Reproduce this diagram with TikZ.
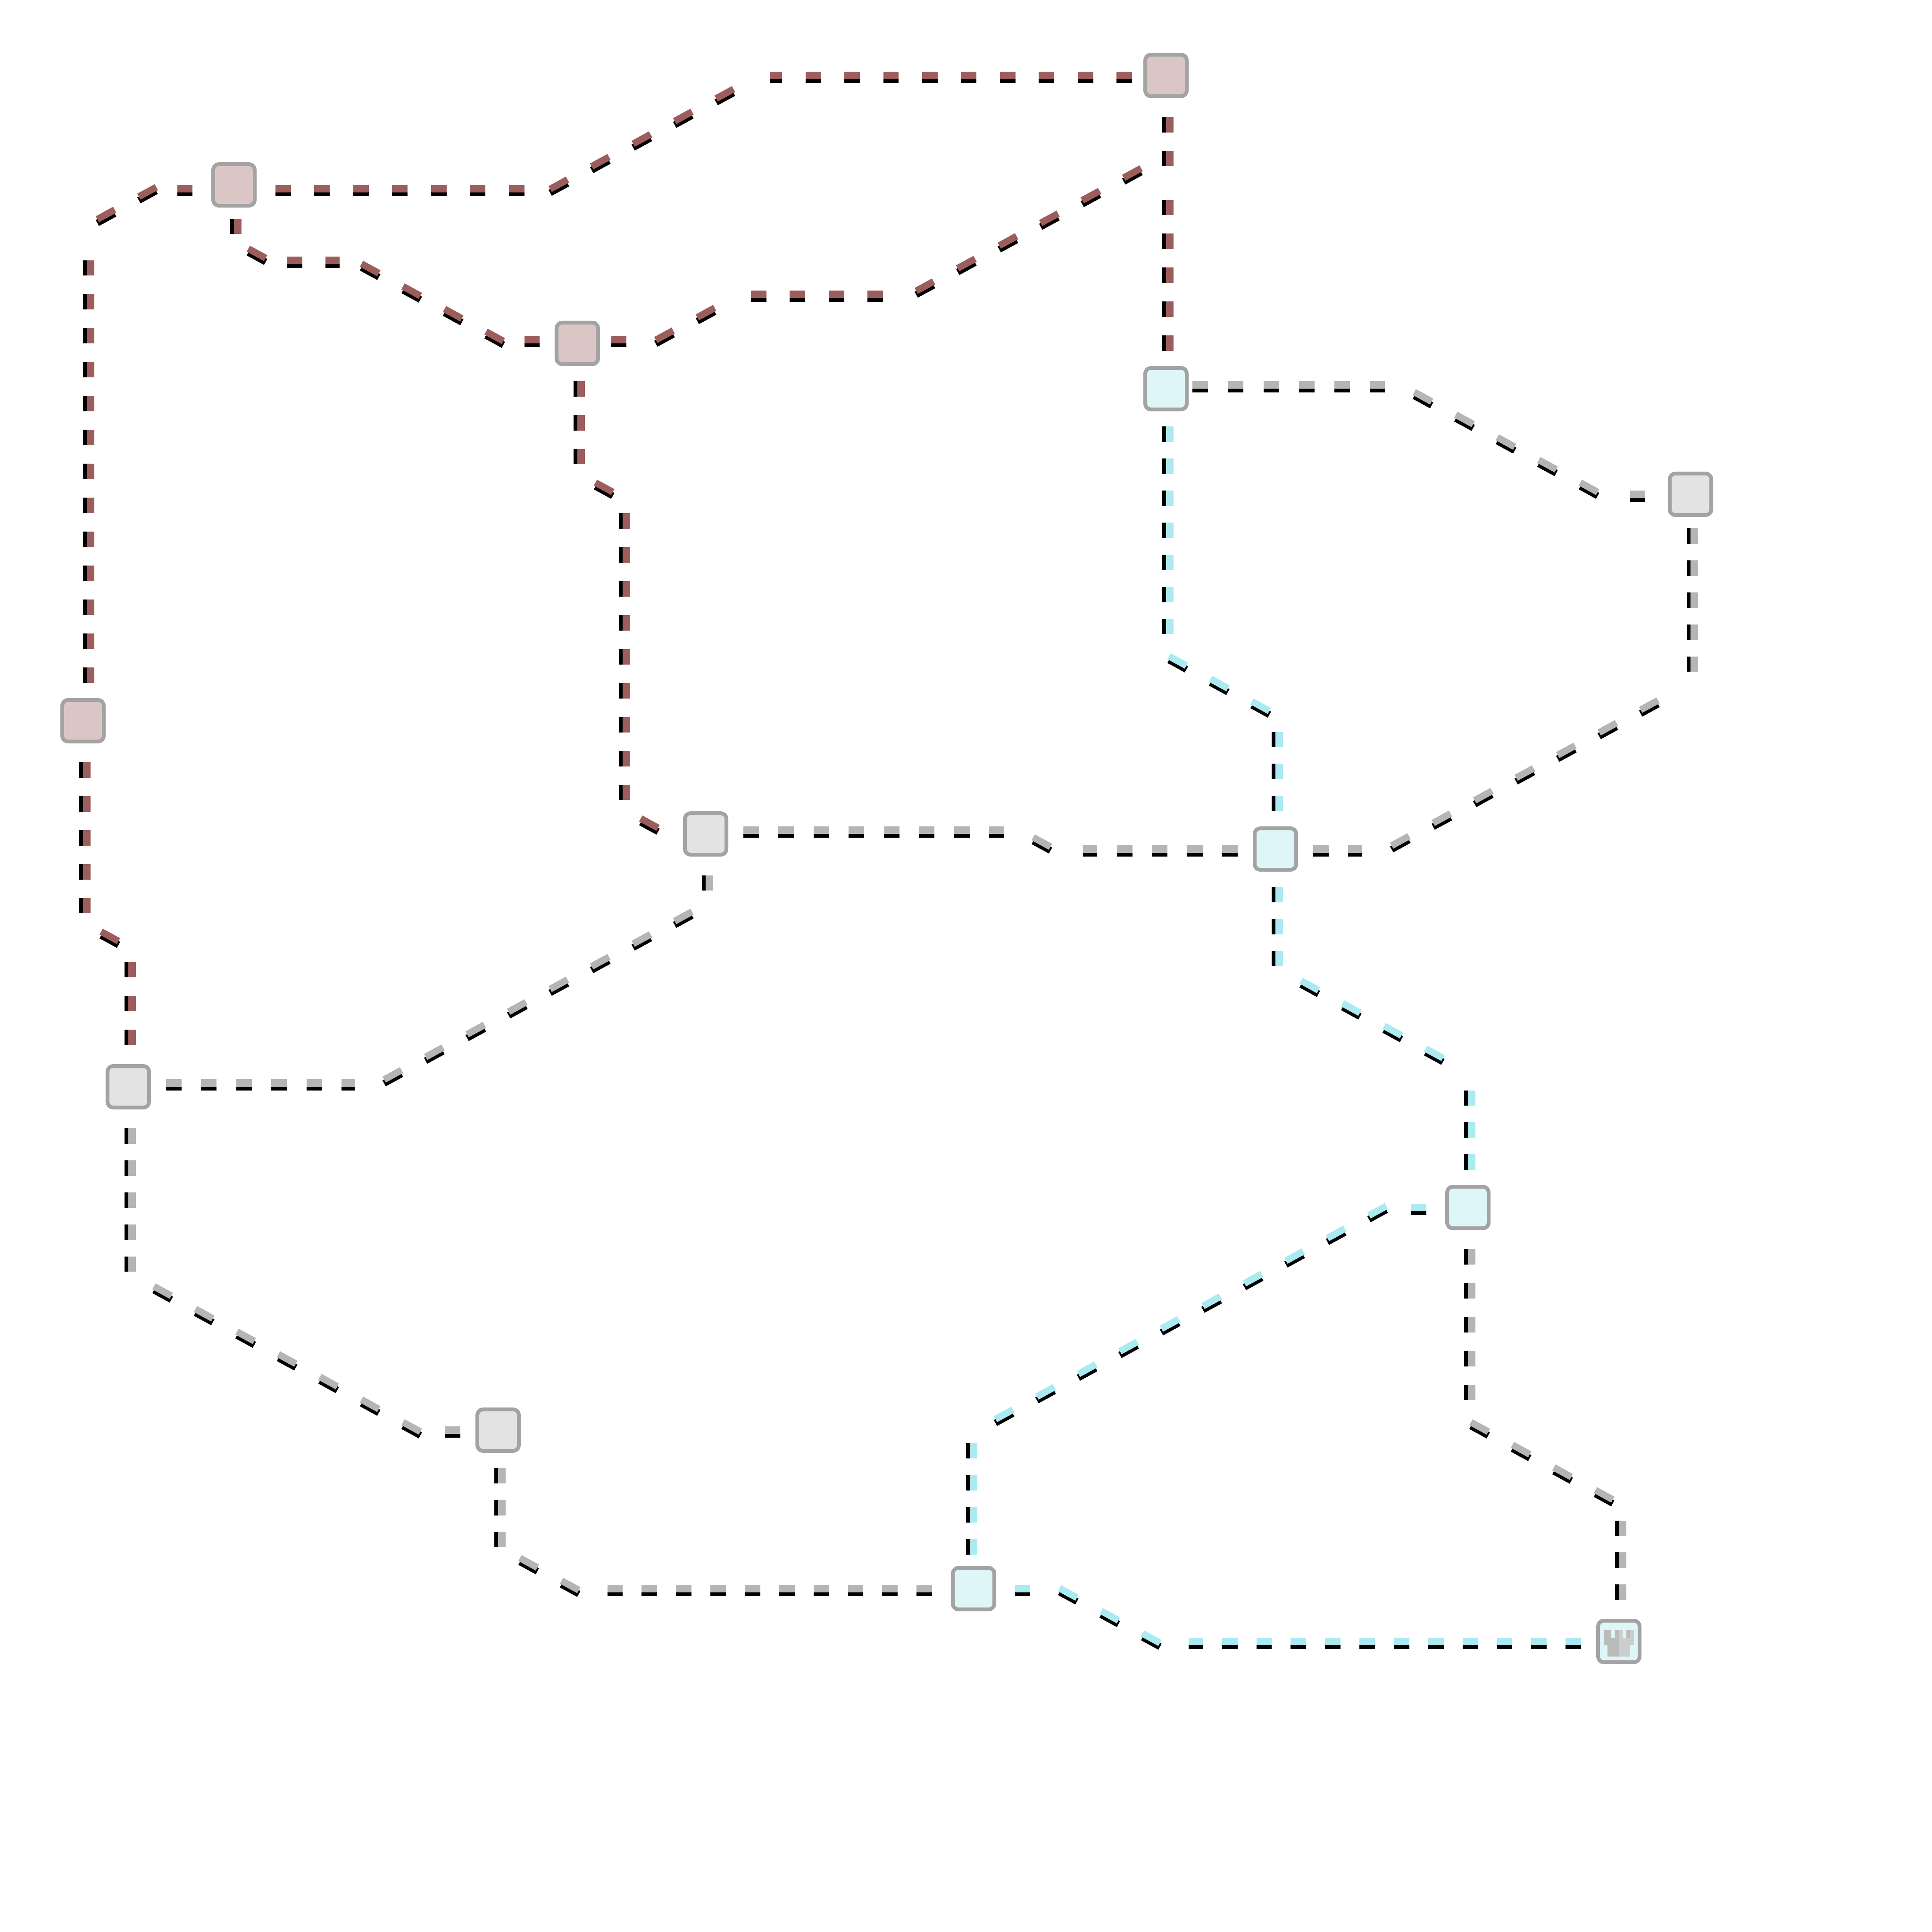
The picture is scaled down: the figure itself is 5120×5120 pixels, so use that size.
\documentclass[tikz,border=0pt]{standalone}
\definecolor{redl}{HTML}{9C5D5D}
\definecolor{cyanl}{HTML}{AAEAF0}
\definecolor{greyl}{HTML}{B5B5B5}
\definecolor{redn}{HTML}{DBC6C6}
\definecolor{cyann}{HTML}{DFF6F9}
\definecolor{greyn}{HTML}{E3E3E3}
\definecolor{bord}{HTML}{A3A3A3}
\definecolor{rka}{HTML}{BBBBBB}
\definecolor{rkb}{HTML}{CDCDCD}
\tikzset{
  x=0.01cm,y=-0.01cm,
  station/.style={draw=bord,line width=.1cm,rounded corners=.15cm,minimum width=1.1cm,minimum height=1.1cm,inner sep=0pt,shape=rectangle},
  straightdash/.style={line width=.2cm,dash pattern=on .41cm off #1cm},
  slantdash/.style={line width=.18cm,dash pattern=on .524cm off .728cm},
  dropdown/.style={draw=black,transform canvas={yshift=-.1cm}},
  dropleft/.style={draw=black,transform canvas={xshift=-.1cm}},
}
% horizontal run: colour, dash gap, start, end
\newcommand{\hrun}[4]{\draw[straightdash=#2,dropdown] #3 -- #4;\draw[straightdash=#2,draw=#1] #3 -- #4;}
% vertical run
\newcommand{\vrun}[4]{\draw[straightdash=#2,dropleft] #3 -- #4;\draw[straightdash=#2,draw=#1] #3 -- #4;}
% slanted run: colour, start, end
\newcommand{\srun}[3]{\draw[slantdash,dropdown] #2 -- #3;\draw[slantdash,draw=#1] #2 -- #3;}
\begin{document}
\begin{tikzpicture}
\useasboundingbox (0,0) rectangle (5120,5120);
\node[station,fill=redn] (n1) at (3090,200) {};
\node[station,fill=redn] (n2) at (620,490) {};
\node[station,fill=redn] (n3) at (1530,910) {};
\node[station,fill=cyann] (n4) at (3090,1030) {};
\node[station,fill=greyn] (n5) at (4480,1310) {};
\node[station,fill=redn] (n6) at (220,1910) {};
\node[station,fill=greyn] (n7) at (1870,2210) {};
\node[station,fill=cyann] (n8) at (3380,2250) {};
\node[station,fill=greyn] (n9) at (340,2880) {};
\node[station,fill=cyann] (n10) at (3890,3200) {};
\node[station,fill=greyn] (n11) at (1320,3790) {};
\node[station,fill=cyann] (n12) at (2580,4210) {};
\node[station,fill=cyann] (n13) at (4290,4350) {};
\fill[rka] (4250,4320) -- (4270,4320) -- (4270,4340) -- (4280,4340) -- (4280,4320) -- (4290,4320) -- (4290,4390) -- (4260,4390) -- (4260,4360) -- (4250,4360) -- cycle;
\fill[rkb] (4290,4320) -- (4300,4320) -- (4300,4340) -- (4310,4340) -- (4310,4320) -- (4330,4320) -- (4330,4360) -- (4320,4360) -- (4320,4390) -- (4290,4390) -- cycle;
\fill[rka] (4310,4320) rectangle (4320,4340);
% n2 - n1
\hrun{redl}{.62}{(n2) ++(110,10)}{(1390,500)}
\srun{redl}{(1458,501)}{(1944,236)}
\hrun{redl}{.62}{(n1) ++(-90,0)}{(2040,200)}
% n2 - n6
\hrun{redl}{.62}{(n2) ++(-150,10)}{(510,500)}
\srun{redl}{(258,581)}{(414,496)}
\vrun{redl}{.49}{(n6) ++(20,-100)}{(240,690)}
% n1 - n4
\vrun{redl}{.49}{(n1) ++(10,110)}{(3100,440)}
\vrun{redl}{.49}{(n4) ++(10,-100)}{(3100,530)}
% n1 - n3
\srun{redl}{(n1) ++(-66,246)}{(2428,771)}
\hrun{redl}{.62}{(1990,780)}{(2340,780)}
\srun{redl}{(1738,901)}{(1894,816)}
\hrun{redl}{.62}{(n3) ++(90,-10)}{(1660,900)}
% n2 - n3
\vrun{redl}{.49}{(n2) ++(10,90)}{(630,620)}
\srun{redl}{(658,659)}{(704,684)}
\hrun{redl}{.62}{(760,690)}{(900,690)}
\srun{redl}{(958,699)}{(1334,904)}
\hrun{redl}{.62}{(n3) ++(-140,-10)}{(1430,900)}
% n3 - n7
\vrun{redl}{.49}{(n3) ++(10,100)}{(1540,1230)}
\srun{redl}{(1578,1279)}{(1624,1304)}
\vrun{redl}{.49}{(1660,1360)}{(1660,2120)}
\srun{redl}{(n7) ++(-172,-41)}{(1744,2194)}
% n6 - n9
\vrun{redl}{.49}{(n6) ++(10,110)}{(230,2420)}
\srun{redl}{(268,2469)}{(314,2494)}
\vrun{redl}{.49}{(n9) ++(10,-110)}{(350,2550)}
% n7 - n8
\hrun{greyl}{.52}{(n7) ++(100,-10)}{(2660,2200)}
\srun{greyl}{(2738,2219)}{(2784,2244)}
\hrun{greyl}{.52}{(n8) ++(-100,0)}{(2870,2250)}
% n7 - n9
\vrun{greyl}{.44}{(n7) ++(10,110)}{(1880,2360)}
\srun{greyl}{(1018,2861)}{(1834,2416)}
\hrun{greyl}{.52}{(n9) ++(100,-10)}{(940,2870)}
% n9 - n11
\vrun{greyl}{.44}{(n9) ++(10,110)}{(350,3370)}
\srun{greyl}{(408,3409)}{(1114,3794)}
\hrun{greyl}{.52}{(n11) ++(-140,0)}{(1220,3790)}
% n11 - n12
\vrun{greyl}{.44}{(n11) ++(10,100)}{(1330,4100)}
\srun{greyl}{(1378,4129)}{(1534,4214)}
\hrun{greyl}{.50}{(n12) ++(-110,0)}{(1610,4210)}
% n4 - n5
\hrun{greyl}{.53}{(n4) ++(70,-10)}{(3670,1020)}
\srun{greyl}{(3748,1039)}{(4234,1304)}
\hrun{greyl}{.52}{(n5) ++(-160,0)}{(4360,1310)}
% n5 - n8
\vrun{greyl}{.44}{(n5) ++(10,90)}{(4490,1780)}
\srun{greyl}{(3688,2241)}{(4394,1856)}
\hrun{greyl}{.52}{(n8) ++(100,0)}{(3610,2250)}
% n10 - n13
\vrun{greyl}{.49}{(n10) ++(10,110)}{(3900,3710)}
\srun{greyl}{(3898,3769)}{(4274,3974)}
\vrun{greyl}{.44}{(n13) ++(10,-110)}{(4300,4030)}
% n4 - n8
\vrun{cyanl}{.44}{(n4) ++(10,100)}{(3100,1680)}
\srun{cyanl}{(3098,1739)}{(3364,1884)}
\vrun{cyanl}{.44}{(n8) ++(10,-100)}{(3390,1940)}
% n8 - n10
\vrun{cyanl}{.44}{(n8) ++(10,100)}{(3390,2560)}
\srun{cyanl}{(3448,2599)}{(3824,2804)}
\vrun{cyanl}{.44}{(n10) ++(10,-100)}{(3900,2890)}
% n10 - n12
\hrun{cyanl}{.50}{(n10) ++(-150,0)}{(3780,3200)}
\srun{cyanl}{(2638,3761)}{(3674,3196)}
\vrun{cyanl}{.44}{(n12) ++(0,-90)}{(2580,3820)}
% n12 - n13
\hrun{cyanl}{.50}{(n12) ++(110,0)}{(2730,4210)}
\srun{cyanl}{(2808,4209)}{(3074,4354)}
\hrun{cyanl}{.50}{(n13) ++(-100,0)}{(3150,4350)}
\end{tikzpicture}
\end{document}
